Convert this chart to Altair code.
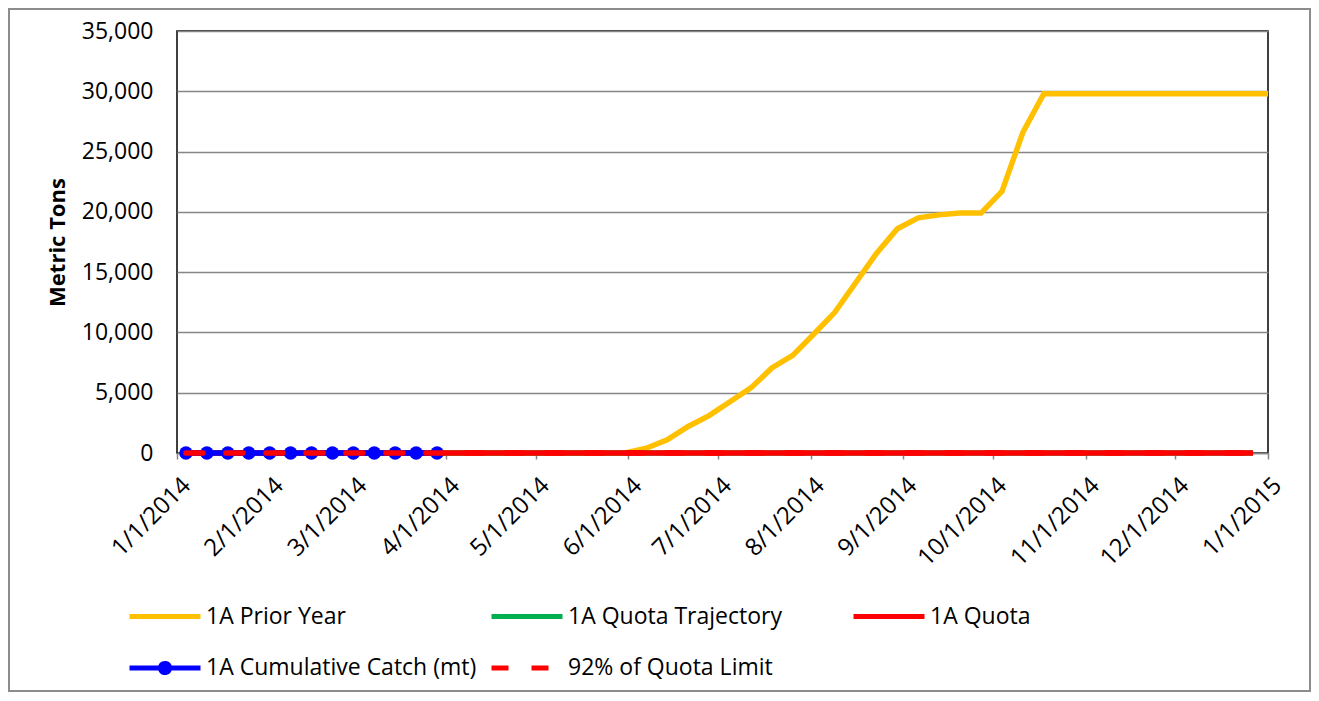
import altair as alt
import pandas as pd

FONT = "Open Sans"

week_dates = [
    "2014/01/04", "2014/01/11", "2014/01/18", "2014/01/25", "2014/02/01", "2014/02/08",
    "2014/02/15", "2014/02/22", "2014/03/01", "2014/03/08", "2014/03/15", "2014/03/22",
    "2014/03/29", "2014/04/05", "2014/04/12", "2014/04/19", "2014/04/26", "2014/05/03",
    "2014/05/10", "2014/05/17", "2014/05/24", "2014/05/31", "2014/06/07", "2014/06/14",
    "2014/06/21", "2014/06/28", "2014/07/05", "2014/07/12", "2014/07/19", "2014/07/26",
    "2014/08/02", "2014/08/09", "2014/08/16", "2014/08/23", "2014/08/30", "2014/09/06",
    "2014/09/13", "2014/09/20", "2014/09/27", "2014/10/04", "2014/10/11", "2014/10/18",
    "2014/10/25", "2014/11/01", "2014/11/08", "2014/11/15", "2014/11/22", "2014/11/29",
    "2014/12/06", "2014/12/13", "2014/12/20", "2014/12/27",
]
prior_dates = week_dates + ["2015/01/01"]

prior_year = [
    0, 0, 0, 0, 0, 0, 0, 0, 0, 0, 0, 0, 0, 0, 0, 0, 0, 0, 0, 0, 0, 0,
    400, 1100, 2200, 3100, 4250, 5400, 7050, 8100, 9850, 11650, 14100, 16550,
    18600, 19500, 19750, 19900, 19900, 21700, 26600, 29800,
    29800, 29800, 29800, 29800, 29800, 29800, 29800, 29800, 29800, 29800, 29800,
]
quota_trajectory = [
    0, 0, 0, 0, 0, 0, 0, 0, 0, 0, 0, 0, 0, 0, 0, 0, 0, 0, 0, 0, 0, 0, 0, 0, 0, 0,
    0, 0, 0, 0, 0, 0, 0, 0, 0, 0, 0, 0, 0, 0, 0, 0, 0, 0, 0, 0, 0, 0, 0, 0, 0, 0,
]
quota = [
    0, 0, 0, 0, 0, 0, 0, 0, 0, 0, 0, 0, 0, 0, 0, 0, 0, 0, 0, 0, 0, 0, 0, 0, 0, 0,
    0, 0, 0, 0, 0, 0, 0, 0, 0, 0, 0, 0, 0, 0, 0, 0, 0, 0, 0, 0, 0, 0, 0, 0, 0, 0,
]
cumulative_catch = [0, 0, 0, 0, 0, 0, 0, 0, 0, 0, 0, 0, 0]
quota_92 = [
    0, 0, 0, 0, 0, 0, 0, 0, 0, 0, 0, 0, 0, 0, 0, 0, 0, 0, 0, 0, 0, 0, 0, 0, 0, 0,
    0, 0, 0, 0, 0, 0, 0, 0, 0, 0, 0, 0, 0, 0, 0, 0, 0, 0, 0, 0, 0, 0, 0, 0, 0, 0,
]

series_names = ["1A Prior Year", "1A Quota Trajectory", "1A Quota",
                "1A Cumulative Catch (mt)", "92% of Quota Limit"]
series_colors = ["#FFC000", "#00B050", "#FF0000", "#0000FF", "#FF0000"]
x_tick_labels = [(2014, m) for m in range(1, 13)] + [(2015, 1)]
y_ticks = [0, 5000, 10000, 15000, 20000, 25000, 30000, 35000]


def frame(dates, values, name):
    return pd.DataFrame({"date": dates[: len(values)], "value": values, "series": name})


data = pd.concat([
    frame(prior_dates, prior_year, series_names[0]),
    frame(week_dates, quota_trajectory, series_names[1]),
    frame(week_dates, quota, series_names[2]),
    frame(week_dates, cumulative_catch, series_names[3]),
    frame(week_dates, quota_92, series_names[4]),
], ignore_index=True)

x_enc = alt.X(
    "date:T",
    scale=alt.Scale(domain=[alt.DateTime(year=2014, month=1, date=1),
                            alt.DateTime(year=2015, month=1, date=1)]),
    axis=alt.Axis(
        title=None,
        values=[alt.DateTime(year=y, month=m, date=1) for y, m in x_tick_labels],
        format="%-m/%-d/%Y",
        labelAngle=-45, labelAlign="right", labelBaseline="top",
        labelPadding=14, labelOffset=1,
        labelFont=FONT, labelFontSize=24, labelColor="black",
        tickColor="#868686", tickSize=6, tickWidth=1.5,
        domainColor="#868686", domainWidth=1.5, grid=False, labelOverlap=False,
    ),
)
y_enc = alt.Y(
    "value:Q",
    scale=alt.Scale(domain=[0, 35000], nice=False),
    axis=alt.Axis(
        title="Metric Tons", values=y_ticks, format=",.0f",
        labelFont=FONT, labelFontSize=23, labelColor="black", labelPadding=24,
        titleFont=FONT, titleFontSize=22, titleFontWeight="bold", titleColor="black",
        titleX=-120, titleY=211, titleAngle=-90, titleAlign="center", titleBaseline="middle",
        domain=False, ticks=False, grid=True, gridColor="#868686", gridWidth=1.5,
    ),
)

base = alt.Chart(data).encode(x=x_enc, y=y_enc)


def line_for(i, **kw):
    return base.transform_filter(alt.datum.series == series_names[i]).mark_line(
        color=series_colors[i], strokeWidth=5.5, **kw)


prior_line = line_for(0)
traj_line = line_for(1)
quota_line = line_for(2)
catch_line = line_for(3)
catch_points = base.transform_filter(alt.datum.series == series_names[3]).mark_point(
    filled=True, color="#0000FF", size=180, opacity=1)
q92_line = line_for(4, strokeDash=[17, 23], strokeCap="round")

line_path = "M-1,0L1,0"
dot_path = "M-1,0L1,0M0.13,0A0.13,0.13 0 1,1 -0.13,0A0.13,0.13 0 1,1 0.13,0Z"
legend_shapes = [line_path, line_path, line_path, dot_path, line_path]
legend_dashes = [[1, 0], [1, 0], [1, 0], [1, 0], [17, 23]]

leg = alt.Legend(
    title=None, orient="none", legendX=-50, legendY=546, direction="horizontal",
    columns=3, gridAlign="all", symbolSize=5041, symbolStrokeWidth=5,
    labelFont=FONT, labelFontSize=23, labelColor="black", labelLimit=600,
    labelOffset=3, columnPadding=4, rowPadding=-26, padding=0, symbolOpacity=1,
)

legend_layer = alt.Chart(data).transform_filter("false").mark_point(size=5041).encode(
    stroke=alt.Stroke("series:N", scale=alt.Scale(domain=series_names, range=series_colors), legend=leg),
    fill=alt.Fill("series:N", scale=alt.Scale(domain=series_names, range=series_colors), legend=leg),
    shape=alt.Shape("series:N", scale=alt.Scale(domain=series_names, range=legend_shapes), legend=leg),
    strokeDash=alt.StrokeDash("series:N", scale=alt.Scale(domain=series_names, range=legend_dashes), legend=leg),
)

# decorative outer chart-area border (not data)
chart_border = alt.Chart(data).transform_filter(alt.datum.series == series_names[0]).transform_aggregate(
    n="count()"
).mark_rect(fill=None, stroke="#8C8C8C", strokeWidth=2, clip=False).encode(
    x=alt.value(-168), x2=alt.value(1133), y=alt.value(-22), y2=alt.value(660),
)

chart = alt.layer(
    prior_line, traj_line, quota_line, catch_line, catch_points, q92_line, legend_layer, chart_border
).properties(
    width=1091, height=422,
    autosize=alt.AutoSizeParams(type="none"),
    padding={"left": 169, "top": 23, "right": 43, "bottom": 240},
    background="white",
).configure_view(
    stroke="black", strokeWidth=1.5,
)

chart.save("out.html", embed_options={"renderer": "svg", "actions": False})
